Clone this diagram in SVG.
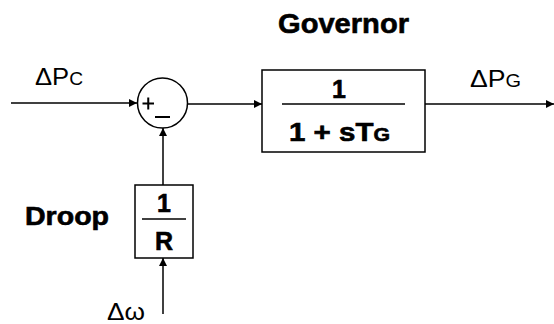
<svg xmlns="http://www.w3.org/2000/svg" width="554" height="324" viewBox="0 0 554 324">
<defs>
<marker id="arr" viewBox="0 0 10 10" refX="10" refY="5" markerWidth="9" markerHeight="8" markerUnits="userSpaceOnUse" orient="auto">
<path d="M0,0 L10,5 L0,10 Z" fill="#000"/>
</marker>
</defs>
<style>
.ln{stroke:#000;stroke-width:1.5;fill:none}
.bx{stroke:#000;stroke-width:1.5;fill:#fff}
.t{font-family:"Liberation Sans",Arial,sans-serif;fill:#000}
.b{font-family:"Liberation Sans",Arial,sans-serif;font-weight:bold;fill:#000;stroke:#000;stroke-width:0.6}
</style>
<rect width="554" height="324" fill="#fff"/>
<g id="connectors">
<line class="ln" x1="11" y1="103" x2="137" y2="103" marker-end="url(#arr)"/>
<line class="ln" x1="188" y1="104" x2="262" y2="104" marker-end="url(#arr)"/>
<line class="ln" x1="425" y1="104" x2="554" y2="104" marker-end="url(#arr)"/>
<line class="ln" x1="163" y1="185" x2="163" y2="128" marker-end="url(#arr)"/>
<line class="ln" x1="163" y1="314" x2="163" y2="258" marker-end="url(#arr)"/>
</g>
<g id="sum">
<circle class="bx" cx="162.5" cy="103" r="25"/>
<path d="M142.5,103.5 H154 M148.25,97.5 V109.5 M155,117 H170" stroke="#000" stroke-width="2" fill="none"/>
</g>
<g id="governor">
<rect class="bx" x="262" y="70" width="163" height="82"/>
<line class="ln" x1="282" y1="104" x2="405" y2="104"/>
<text class="b" x="339" y="98" font-size="25" text-anchor="middle">1</text>
<text class="b" x="289" y="141" font-size="25" textLength="101" lengthAdjust="spacingAndGlyphs">1 + sT<tspan font-size="18">G</tspan></text>
<text class="b" x="278" y="33" font-size="28" textLength="131" lengthAdjust="spacingAndGlyphs">Governor</text>
</g>
<g id="droop">
<rect class="bx" x="135" y="185" width="58" height="73"/>
<line class="ln" x1="142" y1="219" x2="186" y2="219"/>
<text class="b" x="164" y="212" font-size="25" text-anchor="middle">1</text>
<text class="b" x="164" y="250" font-size="25" text-anchor="middle">R</text>
<text class="b" x="25" y="225" font-size="25" textLength="84" lengthAdjust="spacingAndGlyphs">Droop</text>
</g>
<g id="labels">
<text class="t" x="35" y="85" font-size="24" textLength="48" lengthAdjust="spacingAndGlyphs">ΔP<tspan font-size="18">C</tspan></text>
<text class="t" x="470" y="87" font-size="24" textLength="51" lengthAdjust="spacingAndGlyphs">ΔP<tspan font-size="18">G</tspan></text>
<text class="t" x="107" y="320" font-size="24" textLength="38" lengthAdjust="spacingAndGlyphs">Δω</text>
</g>
</svg>
